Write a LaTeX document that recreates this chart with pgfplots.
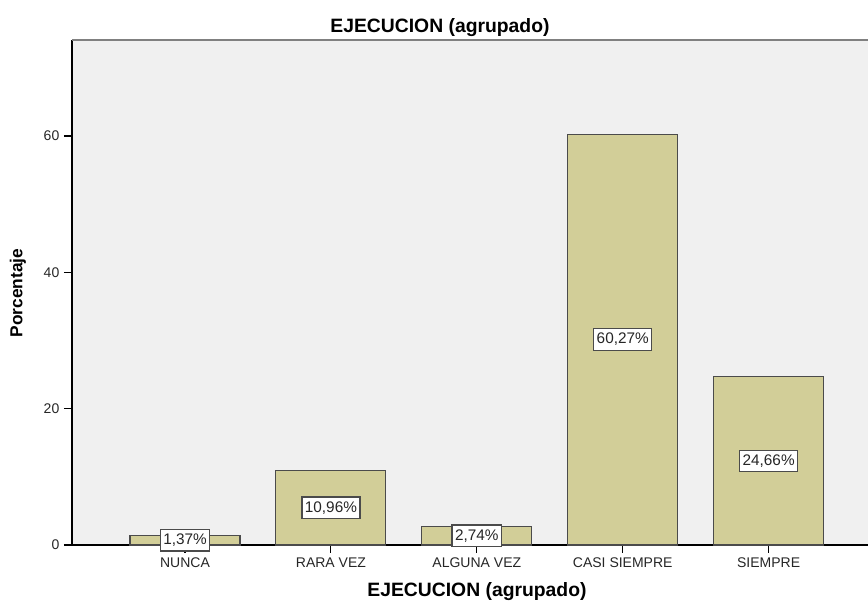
\documentclass[border=0pt]{standalone}
\usepackage{pgfplots}
\pgfplotsset{compat=1.18}
\usepackage{pgfplotstable}
\usepackage{fontspec}
\setmainfont{Liberation Sans}
\definecolor{barfill}{RGB}{210,206,152}
\definecolor{bg}{RGB}{240,240,240}
\definecolor{edge}{RGB}{75,75,75}

\pgfplotstableread{
x y lab
0 1.37 1,37
1 10.96 10,96
2 2.74 2,74
3 60.27 60,27
4 24.66 24,66
}\datatable

\begin{document}
\begin{tikzpicture}
\path[use as bounding box] (0pt,0pt) rectangle (651pt,451.5pt);
\begin{axis}[
  at={(54pt,42.75pt)}, anchor=south west,
  scale only axis, width=597pt, height=378.75pt,
  xmin=-0.7745, xmax=4.681, ymin=0, ymax=74.08,
  axis lines*=left,
  axis line style={black, line width=1pt},
  axis background/.style={fill=bg},
  xtick={0,1,2,3,4},
  xticklabels={NUNCA, RARA VEZ, ALGUNA VEZ, CASI SIEMPRE, SIEMPRE},
  ytick={0,20,40,60},
  tick align=outside, major tick length=6pt,
  tick style={black, line width=0.8pt},
  /pgf/number format/assume math mode=true,
  ticklabel style={font=\fontsize{10.5}{12}\selectfont, text=black!85},
  clip=false,
]
\addplot[ybar, bar width=0.754, fill=barfill, draw=edge, line width=0.8pt]
  table[x=x, y=y]{\datatable};
\addplot[draw=none, mark=none,
  point meta=explicit symbolic,
  nodes near coords={\pgfplotspointmeta\%},
  nodes near coords style={anchor=center, fill=white, draw=edge, line width=1pt,
    inner xsep=2.2pt, inner ysep=3.3pt, font=\fontsize{11.5}{13}\selectfont, text=black!85}]
  table[x=x, y expr=\thisrow{y}/2, meta=lab]{\datatable};
\draw[color=black!50, line width=1.2pt] (rel axis cs:0,1) -- (rel axis cs:1,1);
\end{axis}
\node[font=\bfseries\fontsize{14.5}{16}\selectfont] at (330pt,431pt) {EJECUCION (agrupado)};
\node[font=\bfseries\fontsize{14.5}{16}\selectfont] at (357.75pt,7.5pt) {EJECUCION (agrupado)};
\node[font=\bfseries\fontsize{13}{15}\selectfont, rotate=90] at (13.5pt,231.75pt) {Porcentaje};
\end{tikzpicture}
\end{document}
